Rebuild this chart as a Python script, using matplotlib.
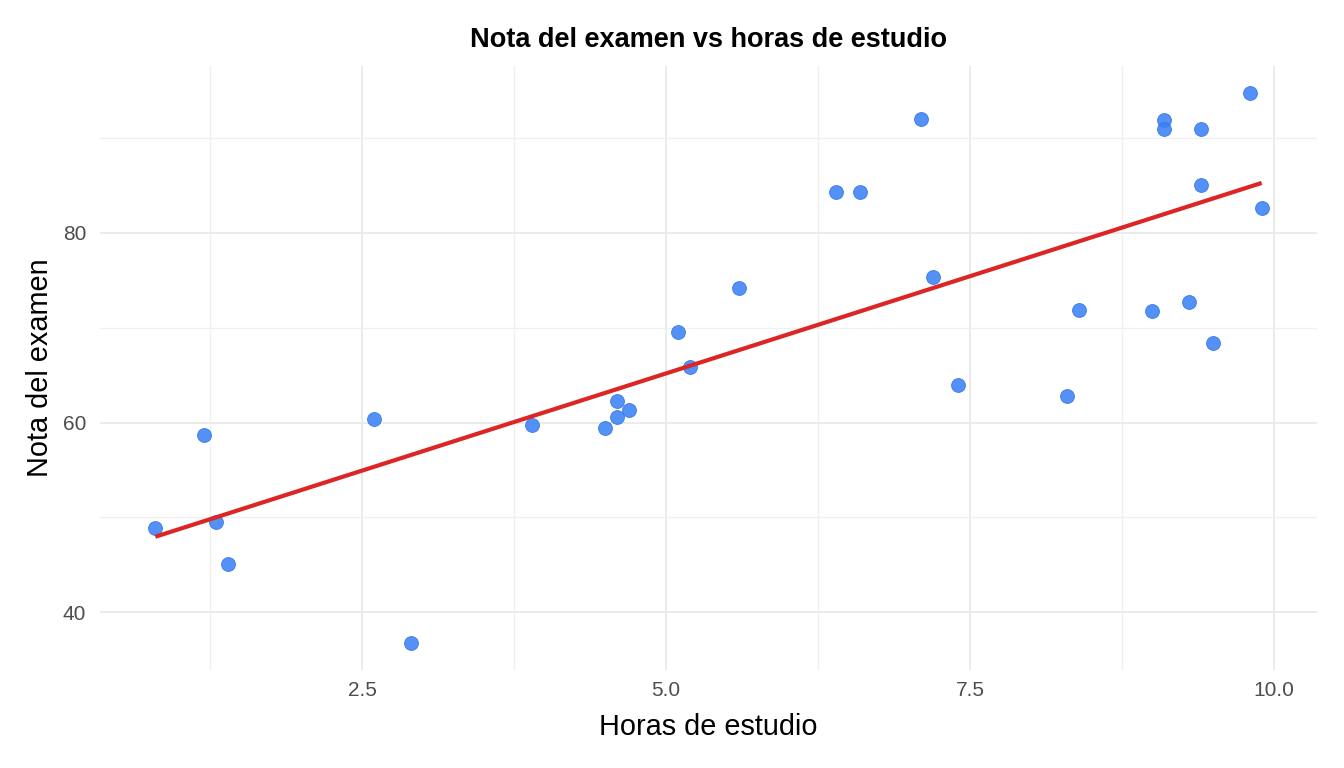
import numpy as np
import matplotlib
matplotlib.use('Agg')
import matplotlib.pyplot as plt
from matplotlib.ticker import MultipleLocator

plt.rcParams['font.family'] = ['Liberation Sans', 'DejaVu Sans']

# Data
horas = [0.8, 1.2, 1.3, 1.4, 2.6, 2.9, 3.9, 4.5, 4.6, 4.6,
         4.7, 5.1, 5.2, 5.6, 6.4, 6.6, 7.1, 7.2, 7.4, 8.3,
         8.4, 9.0, 9.1, 9.1, 9.4, 9.4, 9.3, 9.5, 9.8, 9.9]
nota = [48.9, 58.7, 49.5, 45.1, 60.4, 36.8, 59.7, 59.4, 62.3, 60.6,
        61.3, 69.5, 65.9, 74.2, 84.3, 84.3, 92.0, 75.3, 64.0, 62.8,
        71.9, 71.8, 91.9, 91.0, 90.9, 85.0, 72.7, 68.4, 94.7, 82.6]

titulo = 'Nota del examen vs horas de estudio'
xlab = 'Horas de estudio'
ylab = 'Nota del examen'
xticks = [2.5, 5.0, 7.5, 10.0]
xticklabels = ['2.5', '5.0', '7.5', '10.0']

x = np.array(horas)
y = np.array(nota)

W, H = 1344, 768
fig = plt.figure(figsize=(W / 100, H / 100), dpi=100)
# panel from pixel 100..1317 (x), 66..670 (y)
ax = fig.add_axes([100 / W, 1 - 670 / H, 1217 / W, 604 / H])

ax.scatter(x, y, s=100, color='#3B82F6', alpha=0.88, edgecolors='#2F6FE8',
           linewidths=0.6, zorder=3)

# linear fit like geom_smooth(method='lm')
slope, intercept = np.polyfit(x, y, 1)
xs = np.array([x.min(), x.max()])
ax.plot(xs, slope * xs + intercept, color='#DC2626', lw=3.0, zorder=4,
        solid_capstyle='butt')

# ggplot-like expansion of 5%
xr = x.max() - x.min()
yr = y.max() - y.min()
ax.set_xlim(x.min() - 0.05 * xr, x.max() + 0.05 * xr)
ax.set_ylim(y.min() - 0.05 * yr, y.max() + 0.05 * yr)

ax.xaxis.set_minor_locator(MultipleLocator(1.25))
ax.yaxis.set_major_locator(MultipleLocator(20))
ax.yaxis.set_minor_locator(MultipleLocator(10))
ax.set_xticks(xticks)
ax.set_xticklabels(xticklabels)

ax.grid(which='major', color='#EBEBEB', lw=1.4)
ax.grid(which='minor', color='#EFEFEF', lw=0.9)
ax.set_axisbelow(True)
for s in ax.spines.values():
    s.set_visible(False)
ax.tick_params(which='both', length=0, labelsize=15, colors='#4D4D4D')
ax.tick_params(axis='x', pad=8)
ax.tick_params(axis='y', pad=10)

cx = (100 + 1317) / 2 / W
fig.text(cx, 1 - 40 / H, titulo, fontsize=19.5, fontweight='bold',
         ha='center', va='center')
fig.text(cx, 1 - 727 / H, xlab, fontsize=20.8, ha='center', va='center')
fig.text(40 / W, 1 - 368 / H, ylab, fontsize=20.8, ha='center', va='center',
         rotation=90)

plt.savefig('out.png', dpi=100)
